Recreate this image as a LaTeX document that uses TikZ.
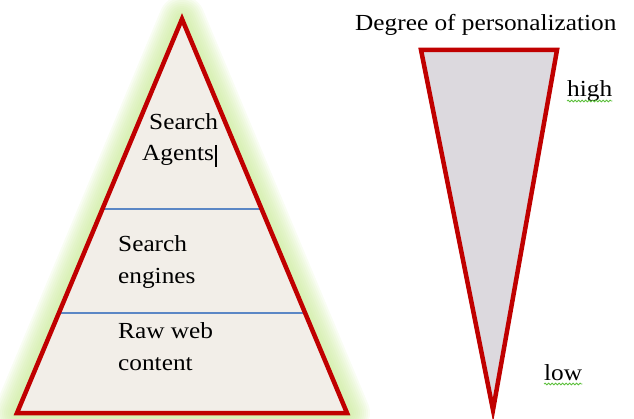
\documentclass[tikz,border=0pt]{standalone}
\usepackage{fontspec}
\setmainfont[FakeStretch=1.1]{Liberation Serif}
\usetikzlibrary{decorations.pathmorphing}
\definecolor{redline}{HTML}{C00000}
\definecolor{pyrfill}{HTML}{F2EEE8}
\definecolor{conefill}{HTML}{DCD9DE}
\definecolor{glowgreen}{HTML}{C8EA95}
\definecolor{sepblue}{HTML}{5B87C5}
\definecolor{squig}{HTML}{5BBF3A}
\tikzset{
  lbl/.style={inner sep=0pt, anchor=base west, font=\fontsize{23}{31}\selectfont, text=black},
  redshape/.style={draw=redline, line width=4.5pt, line join=miter},
  sepline/.style={draw=sepblue, line width=1.1pt},
  squiggle/.style={draw=squig, line width=0.8pt, decorate, decoration={snake, amplitude=0.9pt, segment length=3.5pt}}
}
\begin{document}
\begin{tikzpicture}[x=1pt, y=-1pt]
\useasboundingbox (0,0) rectangle (634,419);
% pyramid corners
\coordinate (apex) at (182,19);
\coordinate (bl) at (17,413);
\coordinate (br) at (347,413);
% glow
\foreach \w in {46,42,38,34,30,26,22,18,14,10} {
  \draw[glowgreen, line width=\w pt, line join=round, opacity=0.11] (apex) -- (bl) -- (br) -- cycle;
}
\fill[pyrfill] (apex) -- (bl) -- (br) -- cycle;
% separators
\coordinate (s1l) at (103,209);
\coordinate (s1r) at (262,209);
\coordinate (s2l) at (60,313);
\coordinate (s2r) at (305,313);
\draw[sepline] (s1l) -- (s1r);
\draw[sepline] (s2l) -- (s2r);
\draw[redshape] (apex) -- (bl) -- (br) -- cycle;
% cone
\coordinate (ctl) at (421,50);
\coordinate (ctr) at (557,50);
\coordinate (cbot) at (493,410);
\filldraw[redshape, fill=conefill] (ctl) -- (ctr) -- (cbot) -- cycle;
% texts
\node[lbl] (sa1) at (149,130) {Search};
\node[lbl] (sa2) at (142,161) {Agents};
\draw[black, line width=1.5pt] ([xshift=2pt, yshift=16pt]sa2.base east) -- ([xshift=2pt, yshift=-6pt]sa2.base east);
\node[lbl] (se1) at (118,252) {Search};
\node[lbl] (se2) at (118,284) {engines};
\node[lbl] (rw1) at (118,338) {Raw web};
\node[lbl] (rw2) at (118,370) {content};
\node[lbl] (deg) at (355,31) {Degree of personalization};
\node[lbl] (high) at (567,97) {high};
\node[lbl] (low) at (544,380) {low};
\draw[squiggle] ([yshift=-4pt]high.base west) -- ([yshift=-4pt]high.base east);
\draw[squiggle] ([yshift=-4pt]low.base west) -- ([yshift=-4pt]low.base east);
\end{tikzpicture}
\end{document}
